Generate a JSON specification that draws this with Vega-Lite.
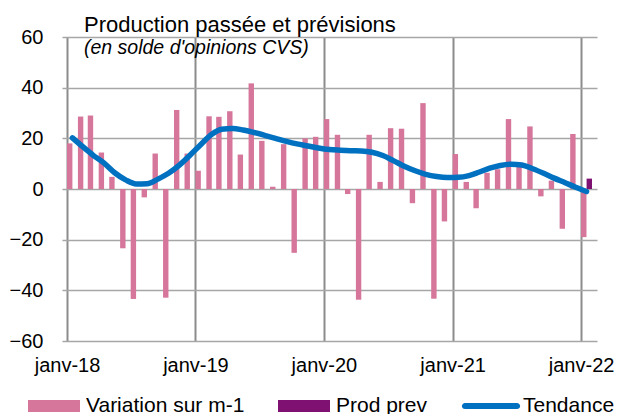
{
  "$schema": "https://vega.github.io/schema/vega-lite/v6.json",
  "autosize": "none",
  "width": 535,
  "height": 304,
  "padding": {"left": 62, "top": 37, "right": 43, "bottom": 73},
  "background": "white",
  "config": {
    "font": "Liberation Sans",
    "view": {"stroke": null},
    "axis": {"labelFont": "Liberation Sans", "labelColor": "#000000", "labelFontSize": 20}
  },
  "title": {
    "text": "Production passée et prévisions",
    "subtitle": "(en solde d'opinions CVS)",
    "anchor": "start",
    "frame": "group",
    "font": "Liberation Sans",
    "fontSize": 22,
    "fontWeight": "normal",
    "color": "#000000",
    "subtitleFont": "Liberation Sans",
    "subtitleFontSize": 19.5,
    "subtitleFontStyle": "italic",
    "subtitleColor": "#000000",
    "subtitlePadding": 2,
    "offset": -31,
    "dx": 22
  },
  "datasets": {
    "bars": [
      {"date": "2018-01", "series": "Variation sur m-1", "value": 18},
      {"date": "2018-02", "series": "Variation sur m-1", "value": 28.6},
      {"date": "2018-03", "series": "Variation sur m-1", "value": 29},
      {"date": "2018-04", "series": "Variation sur m-1", "value": 14.4},
      {"date": "2018-05", "series": "Variation sur m-1", "value": 4.8},
      {"date": "2018-06", "series": "Variation sur m-1", "value": -23.4},
      {"date": "2018-07", "series": "Variation sur m-1", "value": -43.4},
      {"date": "2018-08", "series": "Variation sur m-1", "value": -3.3},
      {"date": "2018-09", "series": "Variation sur m-1", "value": 14},
      {"date": "2018-10", "series": "Variation sur m-1", "value": -42.9},
      {"date": "2018-11", "series": "Variation sur m-1", "value": 31.2},
      {"date": "2018-12", "series": "Variation sur m-1", "value": 14},
      {"date": "2019-01", "series": "Variation sur m-1", "value": 7.2},
      {"date": "2019-02", "series": "Variation sur m-1", "value": 28.7},
      {"date": "2019-03", "series": "Variation sur m-1", "value": 28.5},
      {"date": "2019-04", "series": "Variation sur m-1", "value": 30.7},
      {"date": "2019-05", "series": "Variation sur m-1", "value": 13.6},
      {"date": "2019-06", "series": "Variation sur m-1", "value": 41.7},
      {"date": "2019-07", "series": "Variation sur m-1", "value": 19},
      {"date": "2019-08", "series": "Variation sur m-1", "value": 0.9},
      {"date": "2019-09", "series": "Variation sur m-1", "value": 17.7},
      {"date": "2019-10", "series": "Variation sur m-1", "value": -25.2},
      {"date": "2019-11", "series": "Variation sur m-1", "value": 20},
      {"date": "2019-12", "series": "Variation sur m-1", "value": 20.6},
      {"date": "2020-01", "series": "Variation sur m-1", "value": 27.6},
      {"date": "2020-02", "series": "Variation sur m-1", "value": 21.4},
      {"date": "2020-03", "series": "Variation sur m-1", "value": -2},
      {"date": "2020-04", "series": "Variation sur m-1", "value": -43.7},
      {"date": "2020-05", "series": "Variation sur m-1", "value": 21.4},
      {"date": "2020-06", "series": "Variation sur m-1", "value": 2.8},
      {"date": "2020-07", "series": "Variation sur m-1", "value": 24},
      {"date": "2020-08", "series": "Variation sur m-1", "value": 23.8},
      {"date": "2020-09", "series": "Variation sur m-1", "value": -5.6},
      {"date": "2020-10", "series": "Variation sur m-1", "value": 33.9},
      {"date": "2020-11", "series": "Variation sur m-1", "value": -43.3},
      {"date": "2020-12", "series": "Variation sur m-1", "value": -12.8},
      {"date": "2021-01", "series": "Variation sur m-1", "value": 13.8},
      {"date": "2021-02", "series": "Variation sur m-1", "value": 2.8},
      {"date": "2021-03", "series": "Variation sur m-1", "value": -7.6},
      {"date": "2021-04", "series": "Variation sur m-1", "value": 6.4},
      {"date": "2021-05", "series": "Variation sur m-1", "value": 7.8},
      {"date": "2021-06", "series": "Variation sur m-1", "value": 27.6},
      {"date": "2021-07", "series": "Variation sur m-1", "value": 8.8},
      {"date": "2021-08", "series": "Variation sur m-1", "value": 24.7},
      {"date": "2021-09", "series": "Variation sur m-1", "value": -2.9},
      {"date": "2021-10", "series": "Variation sur m-1", "value": 3.3},
      {"date": "2021-11", "series": "Variation sur m-1", "value": -15.7},
      {"date": "2021-12", "series": "Variation sur m-1", "value": 21.7},
      {"date": "2022-01", "series": "Variation sur m-1", "value": -19}
    ],
    "prev": [
      {"date": "2022-01", "series": "Prod prev", "value": 4.1}
    ],
    "trend": [
      {"date": "2018-01", "series": "Tendance", "value": 20.2},
      {"date": "2018-02", "series": "Tendance", "value": 16.5},
      {"date": "2018-03", "series": "Tendance", "value": 13.3},
      {"date": "2018-04", "series": "Tendance", "value": 10.2},
      {"date": "2018-05", "series": "Tendance", "value": 6.4},
      {"date": "2018-06", "series": "Tendance", "value": 3.6},
      {"date": "2018-07", "series": "Tendance", "value": 2.0},
      {"date": "2018-08", "series": "Tendance", "value": 2.1},
      {"date": "2018-09", "series": "Tendance", "value": 3.9},
      {"date": "2018-10", "series": "Tendance", "value": 6.2},
      {"date": "2018-11", "series": "Tendance", "value": 9.4},
      {"date": "2018-12", "series": "Tendance", "value": 13.3},
      {"date": "2019-01", "series": "Tendance", "value": 17.6},
      {"date": "2019-02", "series": "Tendance", "value": 21.6},
      {"date": "2019-03", "series": "Tendance", "value": 23.6},
      {"date": "2019-04", "series": "Tendance", "value": 23.9},
      {"date": "2019-05", "series": "Tendance", "value": 23.3},
      {"date": "2019-06", "series": "Tendance", "value": 22.3},
      {"date": "2019-07", "series": "Tendance", "value": 21.2},
      {"date": "2019-08", "series": "Tendance", "value": 20},
      {"date": "2019-09", "series": "Tendance", "value": 18.8},
      {"date": "2019-10", "series": "Tendance", "value": 17.8},
      {"date": "2019-11", "series": "Tendance", "value": 17},
      {"date": "2019-12", "series": "Tendance", "value": 16.2},
      {"date": "2020-01", "series": "Tendance", "value": 15.6},
      {"date": "2020-02", "series": "Tendance", "value": 15.3},
      {"date": "2020-03", "series": "Tendance", "value": 15.1},
      {"date": "2020-04", "series": "Tendance", "value": 15},
      {"date": "2020-05", "series": "Tendance", "value": 14.5},
      {"date": "2020-06", "series": "Tendance", "value": 13.2},
      {"date": "2020-07", "series": "Tendance", "value": 11.2},
      {"date": "2020-08", "series": "Tendance", "value": 9},
      {"date": "2020-09", "series": "Tendance", "value": 7.2},
      {"date": "2020-10", "series": "Tendance", "value": 5.8},
      {"date": "2020-11", "series": "Tendance", "value": 4.9},
      {"date": "2020-12", "series": "Tendance", "value": 4.5},
      {"date": "2021-01", "series": "Tendance", "value": 4.6},
      {"date": "2021-02", "series": "Tendance", "value": 5.3},
      {"date": "2021-03", "series": "Tendance", "value": 6.6},
      {"date": "2021-04", "series": "Tendance", "value": 8.2},
      {"date": "2021-05", "series": "Tendance", "value": 9.3},
      {"date": "2021-06", "series": "Tendance", "value": 9.8},
      {"date": "2021-07", "series": "Tendance", "value": 9.5},
      {"date": "2021-08", "series": "Tendance", "value": 8},
      {"date": "2021-09", "series": "Tendance", "value": 6.2},
      {"date": "2021-10", "series": "Tendance", "value": 4.3},
      {"date": "2021-11", "series": "Tendance", "value": 2.5},
      {"date": "2021-12", "series": "Tendance", "value": 0.7},
      {"date": "2022-01", "series": "Tendance", "value": -1}
    ]
  },
  "encoding": {
    "x": {
      "field": "date",
      "type": "temporal",
      "scale": {"domain": [{"year": 2018, "month": 1, "date": 1}, {"year": 2022, "month": 2, "date": 1}]},
      "axis": {
        "title": null,
        "tickCount": {"interval": "year", "step": 1},
        "labelExpr": "'janv-' + timeFormat(datum.value, '%y')",
        "domain": false,
        "ticks": false,
        "grid": true,
        "gridColor": "#8C8C8C",
        "gridWidth": 2,
        "labelPadding": 14,
        "labelAlign": "center",
        "labelFlush": false,
        "labelOverlap": false
      }
    },
    "y": {
      "field": "value",
      "type": "quantitative",
      "scale": {"domain": [-60, 60], "nice": false},
      "axis": {
        "title": null,
        "values": [-60, -40, -20, 0, 20, 40, 60],
        "domain": false,
        "ticks": false,
        "grid": true,
        "gridColor": "#A6A6A6",
        "gridWidth": 1.5,
        "labelPadding": 19
      }
    },
    "color": {
      "field": "series",
      "type": "nominal",
      "scale": {
        "domain": ["Variation sur m-1", "Prod prev", "Tendance"],
        "range": ["#D5769A", "#7F1173", "#0070C0"]
      },
      "legend": {
        "title": null,
        "orient": "none",
        "direction": "horizontal",
        "legendX": -34,
        "legendY": 343,
        "labelFont": "Liberation Sans",
        "labelFontSize": 21,
        "labelColor": "#000000",
        "labelOffset": 6,
        "columnPadding": 33,
        "symbolType": "M-1,-0.23H1V0.23H-1Z",
        "symbolSize": 2704,
        "symbolStrokeWidth": 0,
        "encode": {
          "symbols": {
            "update": {
              "shape": {"signal": "datum.value === 'Tendance' ? 'M-1,-0.12H1A0.12,0.12,0,0,1,1,0.12H-1A0.12,0.12,0,0,1,-1,-0.12Z' : 'M-1,-0.23H1V0.23H-1Z'"},
              "fill": {"scale": "color", "field": "value"},
              "strokeWidth": {"value": 0}
            }
          }
        }
      }
    }
  },
  "layer": [
    {
      "data": {"name": "bars", "format": {"parse": {"date": "date:'%Y-%m'"}}},
      "mark": {"type": "bar", "width": 5.4, "xOffset": 2.7}
    },
    {
      "data": {"name": "prev", "format": {"parse": {"date": "date:'%Y-%m'"}}},
      "mark": {"type": "bar", "width": 5.4, "xOffset": 8.2}
    },
    {
      "data": {"values": [{"z": 0}]},
      "mark": {"type": "rule", "color": "#000000", "strokeWidth": 1.2},
      "encoding": {"y": {"datum": 0}, "x": null, "color": null}
    },
    {
      "data": {"name": "trend", "format": {"parse": {"date": "date:'%Y-%m'"}}},
      "mark": {"type": "line", "interpolate": "monotone", "strokeWidth": 5.5, "strokeCap": "round", "xOffset": 5.45}
    }
  ]
}
